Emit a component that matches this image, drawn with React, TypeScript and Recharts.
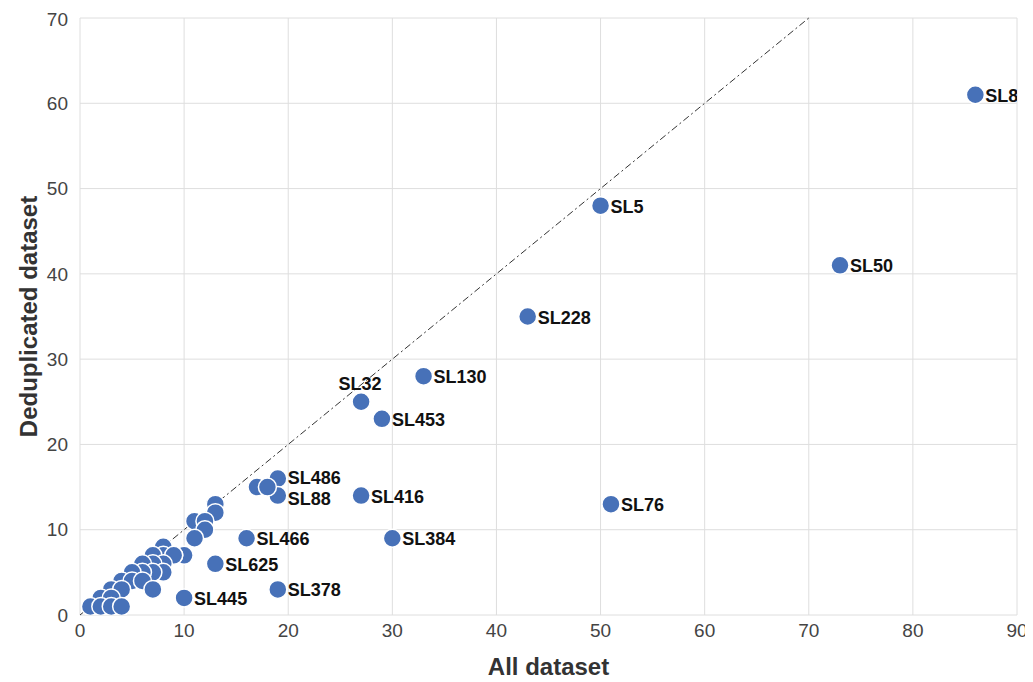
import React from "react";
import {
  CartesianGrid,
  Label,
  ReferenceLine,
  Scatter,
  ScatterChart,
  XAxis,
  YAxis,
} from "recharts";

// lncRNA counts per sample: all reads vs deduplicated
const allDataset = [
  86, 50, 73, 43, 33, 27, 29, 19, 19, 27, 51, 16, 30, 13, 19, 10,
  17, 18, 13, 13, 11, 12, 12, 11, 10, 9, 8, 8, 7, 9, 8, 7, 6, 8, 7, 6, 5,
  4, 5, 6, 7, 3, 4, 2, 3, 1, 2, 3, 4,
];
const dedupDataset = [
  61, 48, 41, 35, 28, 25, 23, 16, 14, 14, 13, 9, 9, 6, 3, 2,
  15, 15, 13, 12, 11, 11, 10, 9, 7, 7, 8, 7, 7, 7, 6, 6, 6, 5, 5, 5, 5,
  4, 4, 4, 3, 3, 3, 2, 2, 1, 1, 1, 1,
];
const sampleLabels = [
  "SL8", "SL5", "SL50", "SL228", "SL130", "SL32", "SL453", "SL486", "SL88",
  "SL416", "SL76", "SL466", "SL384", "SL625", "SL378", "SL445",
];
const xTicks = [0, 10, 20, 30, 40, 50, 60, 70, 80, 90];
const yTicks = [0, 10, 20, 30, 40, 50, 60, 70];

const points = allDataset.map((x, i) => ({
  x,
  y: dedupDataset[i],
  name: sampleLabels[i] ?? "",
}));

const DOT = "#4771b8";
const FONT = "'Liberation Sans', Arial, Helvetica, sans-serif";

const Dot = (props: any) => {
  const { cx, cy } = props;
  return <circle cx={cx} cy={cy} r={9} fill={DOT} stroke="#fff" strokeWidth={1.5} />;
};

const PointLabel = (props: any) => {
  const { cx, cy, payload } = props;
  if (!payload?.name) return <g />;
  const above = payload.name === "SL32";
  // the two labels at x=19 sit close together, nudge them apart a little
  const dy = payload.name === "SL486" ? -1 : payload.name === "SL88" ? 3 : 1;
  return (
    <text
      x={above ? cx - 1 : cx + 10}
      y={above ? cy - 18 : cy + dy}
      textAnchor={above ? "middle" : "start"}
      dominantBaseline="central"
      fontFamily={FONT}
      fontWeight="bold"
      fontSize={18}
      fill="#111"
    >
      {payload.name}
    </text>
  );
};

export default function App() {
  return (
    <div style={{ width: 1025, height: 674 }}>
      <ScatterChart
        width={1025}
        height={674}
        margin={{ top: 10, right: 16, bottom: 0, left: 0 }}
      >
        <CartesianGrid stroke="#dedede" />
        <XAxis
          type="number"
          dataKey="x"
          domain={[0, 90]}
          ticks={xTicks}
          height={67}
          axisLine={false}
          tickLine={false}
          tickSize={7}
          tick={{ fill: "#444", fontSize: 19, fontFamily: FONT }}
          allowDataOverflow
        >
          <Label
            content={(p: any) => (
              <text
                x={p.viewBox.x + p.viewBox.width / 2}
                y={p.viewBox.y + 51}
                textAnchor="middle"
                dominantBaseline="central"
                fontFamily={FONT}
                fontWeight="bold"
                fontSize={24}
                fill="#333"
              >
                All dataset
              </text>
            )}
          />
        </XAxis>
        <YAxis
          type="number"
          dataKey="y"
          domain={[0, 70]}
          ticks={yTicks}
          width={72}
          axisLine={false}
          tickLine={false}
          tickSize={10}
          tick={{ fill: "#444", fontSize: 19, fontFamily: FONT }}
          allowDataOverflow
        >
          <Label
            content={(p: any) => {
              const cx = 20;
              const cy = p.viewBox.y + p.viewBox.height / 2;
              return (
                <text
                  x={cx}
                  y={cy}
                  transform={`rotate(-90 ${cx} ${cy})`}
                  textAnchor="middle"
                  dominantBaseline="central"
                  fontFamily={FONT}
                  fontWeight="bold"
                  fontSize={24}
                  fill="#333"
                >
                  Deduplicated dataset
                </text>
              );
            }}
          />
        </YAxis>
        <Scatter data={points} shape={Dot} isAnimationActive={false} />
        <ReferenceLine
          segment={[
            { x: 0, y: 0 },
            { x: 70, y: 70 },
          ]}
          stroke="#333"
          strokeWidth={1}
          strokeDasharray="7 3 2 3"
        />
        <Scatter data={points} shape={PointLabel} isAnimationActive={false} />
      </ScatterChart>
    </div>
  );
}
